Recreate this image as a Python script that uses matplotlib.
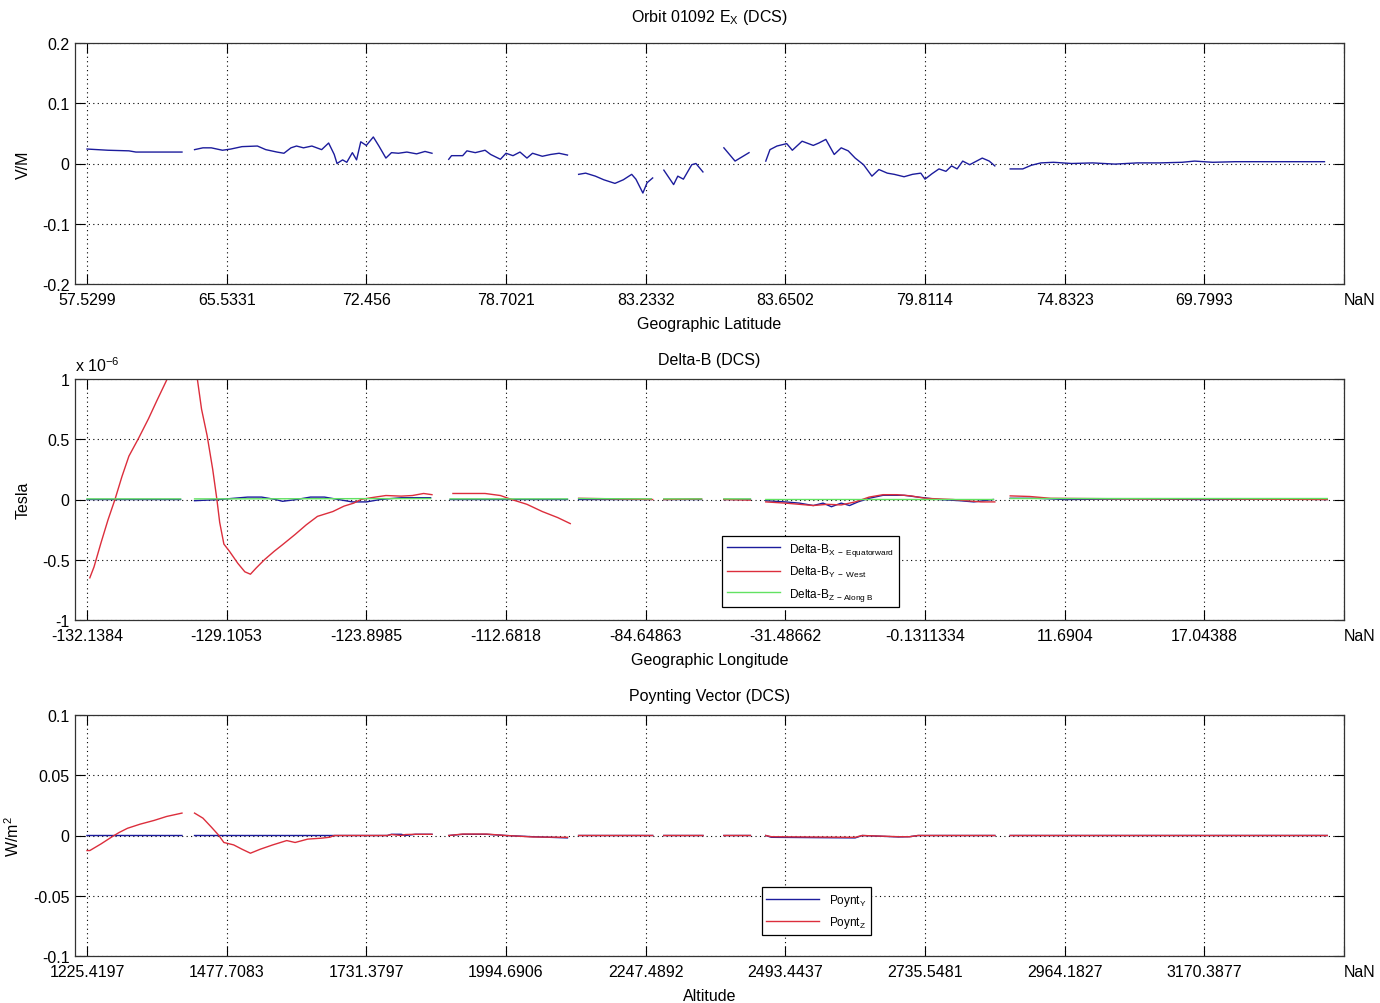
import numpy as np
import matplotlib
matplotlib.use("Agg")
import matplotlib.pyplot as plt

plt.rcParams['font.family'] = ['Liberation Sans', 'DejaVu Sans']
plt.rcParams['axes.unicode_minus'] = False
plt.rcParams['mathtext.fontset'] = 'custom'
plt.rcParams['mathtext.rm'] = 'Liberation Sans'
plt.rcParams['mathtext.it'] = 'Liberation Sans'

nan = np.nan

# x axis: sample index, one labelled tick every 100 samples
tick_idx = [0, 100, 200, 300, 400, 500, 600, 700, 800, 900]
lat_labels = ["57.5299", "65.5331", "72.456", "78.7021", "83.2332",
              "83.6502", "79.8114", "74.8323", "69.7993", "NaN"]
lon_labels = ["-132.1384", "-129.1053", "-123.8985", "-112.6818", "-84.64863",
              "-31.48662", "-0.1311334", "11.6904", "17.04388", "NaN"]
alt_labels = ["1225.4197", "1477.7083", "1731.3797", "1994.6906", "2247.4892",
              "2493.4437", "2735.5481", "2964.1827", "3170.3877", "NaN"]

# E_x (V/m)
ex_idx = [0, 8, 15, 30, 35, 68, 72,
          77, 83, 89, 97, 103, 111, 122, 128, 136, 141, 146, 150, 155, 161, 168,
          173, 177, 179, 183, 186, 190, 193, 196, 200, 205, 209, 214, 218, 223,
          229, 236, 242, 247, 253,
          259, 261, 269, 272, 278, 285, 289, 296, 300, 305, 310, 315, 319, 326,
          332, 338, 344, 348,
          352, 357, 364, 370, 378, 384, 390, 393, 398, 401, 405, 409,
          413, 420, 423, 427, 433, 436, 441, 448,
          456, 464, 474, 480,
          486, 489, 494, 501, 505, 512, 520, 524, 529, 535, 540, 545, 550, 556,
          562, 567, 573, 578, 585, 591, 597, 600, 605, 610, 615, 619, 623, 627,
          632, 637, 641, 646, 650, 655,
          661, 670, 676, 683, 692, 705, 720, 736, 752, 768, 784, 793, 806, 822,
          837, 853, 869, 886]
ex_val = [0.024, 0.023, 0.022, 0.021, 0.019, 0.019, nan,
          0.023, 0.026, 0.026, 0.022, 0.024, 0.028, 0.029, 0.023, 0.019, 0.017,
          0.026, 0.029, 0.026, 0.029, 0.023, 0.034, 0.015, 0.0, 0.006, 0.002,
          0.018, 0.006, 0.036, 0.030, 0.044, 0.029, 0.009, 0.018, 0.017, 0.019,
          0.016, 0.020, 0.017, nan,
          0.007, 0.013, 0.013, 0.021, 0.018, 0.022, 0.015, 0.007, 0.017, 0.013,
          0.019, 0.009, 0.017, 0.012, 0.015, 0.017, 0.014, nan,
          -0.018, -0.016, -0.021, -0.027, -0.033, -0.027, -0.018, -0.026,
          -0.049, -0.032, -0.024, nan,
          -0.011, -0.035, -0.021, -0.026, -0.002, 0.0, -0.014, nan,
          0.026, 0.004, 0.018, nan,
          0.004, 0.023, 0.029, 0.033, 0.022, 0.037, 0.030, 0.034, 0.040, 0.015,
          0.026, 0.021, 0.009, -0.002, -0.021, -0.010, -0.016, -0.018, -0.022,
          -0.018, -0.016, -0.026, -0.017, -0.009, -0.013, -0.004, -0.009, 0.004,
          -0.002, 0.004, 0.009, 0.004, -0.004, nan,
          -0.009, -0.009, -0.003, 0.001, 0.002, 0.0, 0.001, -0.001, 0.001, 0.001,
          0.002, 0.004, 0.002, 0.003, 0.003, 0.003, 0.003, 0.003]

# Delta-B (x 1e-6 Tesla)
by_idx = [2, 5, 10, 15, 20, 25, 30, 37, 44, 50, 57, 62, 67, 72,
          77, 79, 82, 86, 90, 93, 95, 98, 102, 108, 113, 117, 121, 127, 134, 140,
          149, 157, 165, 176, 184, 191, 196, 203, 214, 225, 233, 241, 247, 253,
          262, 274, 285, 296, 304, 315, 326, 337, 346, 348,
          352, 380, 405, 409, 413, 440, 448, 456, 475, 480,
          486, 500, 510, 520, 530, 540, 550, 560, 570, 580, 590, 600, 620, 640,
          650, 655, 661, 675, 690, 750, 800, 888]
by_val = [-0.65, -0.56, -0.36, -0.17, 0.0, 0.19, 0.36, 0.51, 0.67, 0.82, 0.99,
          1.12, 1.22, nan,
          1.15, 1.0, 0.75, 0.53, 0.25, 0.0, -0.19, -0.37, -0.43, -0.53, -0.60,
          -0.62, -0.57, -0.50, -0.43, -0.375, -0.29, -0.21, -0.14, -0.10, -0.055,
          -0.03, 0.0, 0.014, 0.033, 0.028, 0.033, 0.05, 0.04, nan,
          0.05, 0.05, 0.05, 0.033, 0.0, -0.04, -0.10, -0.15, -0.2, nan,
          0.01, 0.005, 0.0, nan, 0.0, 0.005, nan, 0.0, -0.005, nan,
          -0.02, -0.03, -0.04, -0.05, -0.04, -0.045, -0.02, 0.02, 0.04, 0.04,
          0.03, 0.01, 0.0, -0.02, -0.02, nan, 0.03, 0.025, 0.01, 0.005, 0.005, 0.0]
bx_idx = [0, 30, 67, 72, 77, 95, 115, 125, 135, 140, 150, 160, 170, 180, 190,
          200, 210, 225, 246, 253, 260, 300, 344, 348, 352, 404, 409, 413, 440,
          448, 456, 475, 480, 486, 500, 510, 520, 527, 533, 540, 546, 552, 560,
          570, 585, 595, 610, 625, 635, 645, 649, 655, 661, 680, 700, 750, 800,
          850, 888]
bx_val = [0.0, 0.0, 0.0, nan, -0.01, 0.0, 0.02, 0.02, 0.0, -0.015, 0.0, 0.02,
          0.02, 0.0, -0.02, -0.02, 0.0, 0.015, 0.015, nan, 0.0, 0.0, 0.0, nan,
          0.0, 0.0, nan, 0.0, 0.0, nan, 0.0, 0.0, nan, -0.01, -0.02, -0.03, -0.05,
          -0.03, -0.06, -0.03, -0.05, -0.02, 0.01, 0.035, 0.035, 0.02, 0.0,
          -0.01, -0.02, -0.005, 0.0, nan, 0.01, 0.01, 0.0, 0.005, 0.0, 0.005, 0.0]
bz_idx = [0, 67, 72, 77, 246, 253, 260, 344, 348, 352, 404, 409, 413, 440, 448,
          456, 475, 480, 486, 649, 655, 661, 888]
bz_val = [0.005, 0.005, nan, 0.005, 0.008, nan, 0.005, 0.005, nan, 0.008, 0.005,
          nan, 0.005, 0.005, nan, 0.005, 0.005, nan, 0.0, 0.0, nan, 0.008, 0.008]

# Poynting vector (W/m^2)
p_idx = [0, 2, 10, 18, 23, 29, 38, 48, 57, 68, 72,
         77, 83, 89, 94, 98, 105, 111, 117, 124, 133, 143, 149, 158, 168, 174,
         177, 200, 215, 218, 225, 228, 235, 247, 253,
         259, 269, 286, 300, 319, 344, 348, 352, 405, 409, 413, 441, 448,
         456, 475, 480, 486, 490, 550, 555, 581, 589, 595, 650, 655, 661, 888]
py_val = [0.0, 0.0, 0.0, 0.0, 0.0, 0.0, 0.0, 0.0, 0.0, 0.0, nan,
          0.0, 0.0, 0.0, 0.0, 0.0, 0.0, 0.0, 0.0, 0.0, 0.0, 0.0, 0.0, 0.0, 0.0,
          0.0, 0.0, 0.0, 0.0, 0.001, 0.001, 0.0, 0.001, 0.001, nan,
          0.0, 0.001, 0.001, 0.0, -0.001, -0.002, nan, 0.0, 0.0, nan, 0.0, 0.0,
          nan, 0.0, 0.0, nan, 0.0, -0.0015, -0.002, 0.0, -0.0012, -0.001, 0.0,
          0.0, nan, 0.0, 0.0]
pz_val = [-0.0125, -0.0125, -0.007, -0.001, 0.0025, 0.006, 0.0094, 0.0125,
          0.0158, 0.0186, nan,
          0.0186, 0.0144, 0.007, 0.0006, -0.0058, -0.0078, -0.0114, -0.0147,
          -0.0114, -0.0078, -0.0042, -0.0058, -0.003, -0.0022, -0.0014, 0.0, 0.0,
          0.0, 0.0008, 0.0, 0.0008, 0.001, 0.001, nan,
          0.0, 0.0012, 0.0012, 0.0, -0.0012, -0.0015, nan, 0.0, 0.0, nan, 0.0,
          0.0, nan, 0.0, 0.0, nan, 0.0, -0.001, -0.0015, 0.0, -0.001, -0.001,
          0.0, 0.0, nan, 0.0, 0.0]

BLUE = "#1c1c9c"
RED = "#dc2e3c"
GREEN = "#62e262"

fig = plt.figure(figsize=(13.8, 10.04), dpi=100)
W, H = 1380, 1004


def make_axes(top_px):
    return fig.add_axes([75 / W, (H - top_px - 241) / H, 1269 / W, 241 / H])


def style(ax, ylim, yticks, ylabels, xlabels):
    ax.set_xlim(-8.6, 900)
    ax.set_ylim(*ylim)
    ax.set_xticks(tick_idx)
    ax.set_xticklabels(xlabels)
    ax.get_xticklabels()[-1].set_ha("left")
    ax.set_yticks(yticks)
    ax.set_yticklabels(ylabels)
    ax.tick_params(direction="in", length=7, width=0.8, top=True, right=True,
                   labelsize=11.5, colors="black")
    ax.tick_params(axis="x", pad=6)
    ax.tick_params(axis="y", pad=4)
    ax.grid(True, color="black", linestyle=(0, (1, 3)), linewidth=0.8)
    for s in ax.spines.values():
        s.set_linewidth(0.9)
        s.set_color("#333333")


ax1 = make_axes(44)
ax1.plot(ex_idx, ex_val, color=BLUE, lw=1.0)
style(ax1, (-0.2, 0.2), [-0.2, -0.1, 0, 0.1, 0.2],
      ["-0.2", "-0.1", "0", "0.1", "0.2"], lat_labels)
ax1.set_title("Orbit 01092 E$_{\\mathrm{X}}$ (DCS)", fontsize=11.5, pad=16)
ax1.set_xlabel("Geographic Latitude", fontsize=11.5, labelpad=6)
ax1.set_ylabel("V/M", fontsize=11.5, labelpad=8)

ax2 = make_axes(380)
ax2.plot(bx_idx, bx_val, color=BLUE, lw=1.0,
         label="Delta-B$_{\\mathrm{X\\ -\\ Equatorward}}$")
ax2.plot(by_idx, by_val, color=RED, lw=1.0, label="Delta-B$_{\\mathrm{Y\\ -\\ West}}$")
ax2.plot(bz_idx, bz_val, color=GREEN, lw=1.0,
         label="Delta-B$_{\\mathrm{Z\\ -Along\\ B}}$")
style(ax2, (-1, 1), [-1, -0.5, 0, 0.5, 1],
      ["-1", "-0.5", "0", "0.5", "1"], lon_labels)
ax2.set_title("Delta-B (DCS)", fontsize=11.5, pad=11)
ax2.set_xlabel("Geographic Longitude", fontsize=11.5, labelpad=6)
ax2.set_ylabel("Tesla", fontsize=11.5, labelpad=8)
ax2.text(0.0, 1.02, "x 10$^{-6}$", transform=ax2.transAxes, fontsize=11.5,
         ha="left", va="bottom")
leg2 = ax2.legend(loc="upper left", bbox_to_anchor=(0.51, 0.349), fontsize=8.5,
                  handlelength=4.5, fancybox=False, framealpha=1,
                  edgecolor="black", borderpad=0.4, labelspacing=0.55,
                  borderaxespad=0)
leg2.get_frame().set_linewidth(0.9)

ax3 = make_axes(716)
ax3.plot(p_idx, py_val, color=BLUE, lw=1.0, label="Poynt$_{\\mathrm{Y}}$")
ax3.plot(p_idx, pz_val, color=RED, lw=1.0, label="Poynt$_{\\mathrm{Z}}$")
style(ax3, (-0.1, 0.1), [-0.1, -0.05, 0, 0.05, 0.1],
      ["-0.1", "-0.05", "0", "0.05", "0.1"], alt_labels)
ax3.set_title("Poynting Vector (DCS)", fontsize=11.5, pad=11)
ax3.set_xlabel("Altitude", fontsize=11.5, labelpad=6)
ax3.set_ylabel("W/m$^2$", fontsize=11.5, labelpad=8)
leg3 = ax3.legend(loc="upper left", bbox_to_anchor=(0.541, 0.286), fontsize=8.5,
                  handlelength=4.5, fancybox=False, framealpha=1,
                  edgecolor="black", borderpad=0.4, labelspacing=0.55,
                  borderaxespad=0)
leg3.get_frame().set_linewidth(0.9)

fig.savefig("out.png", dpi=100)
